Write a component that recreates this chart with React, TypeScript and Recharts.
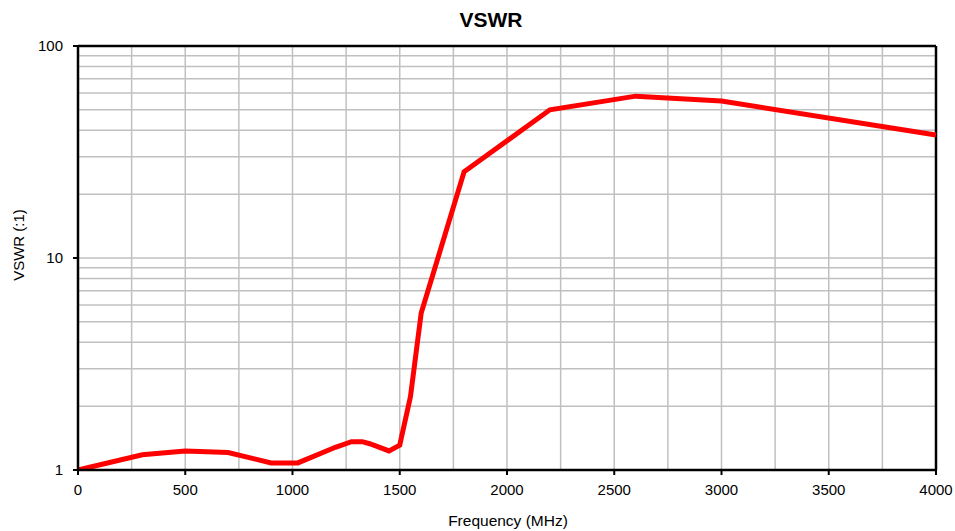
import React from 'react';
import { LineChart, Line, XAxis, YAxis, ReferenceLine } from 'recharts';

const frequency = [0, 300, 500, 700, 900, 1025, 1200, 1275, 1325, 1360, 1450, 1500, 1550, 1600, 1800, 2200, 2600, 3000, 4000];
const vswr = [1.0, 1.18, 1.23, 1.21, 1.08, 1.08, 1.28, 1.36, 1.36, 1.33, 1.23, 1.31, 2.22, 5.5, 25.5, 50, 58, 55, 38];

const xTicks = [0, 500, 1000, 1500, 2000, 2500, 3000, 3500, 4000];
const yTicks = [1, 10, 100];
const xGrid = [250, 500, 750, 1000, 1250, 1500, 1750, 2000, 2250, 2500, 2750, 3000, 3250, 3500, 3750];
const yGrid = [2, 3, 4, 5, 6, 7, 8, 9, 10, 20, 30, 40, 50, 60, 70, 80, 90];

const data = frequency.map((f, i) => ({ f, v: vswr[i] }));

const family = '"Liberation Sans", Arial, sans-serif';
const font = { fontFamily: family, fontSize: 15, fill: '#000' };
const gridColor = '#c0c0c0';

const App = () => {
  return (
    <div style={{ position: 'absolute', left: 0, top: 0, width: 955, height: 531, background: '#fff' }}>
      <div
        style={{
          position: 'absolute',
          left: 391,
          width: 200,
          top: 8,
          textAlign: 'center',
          fontFamily: family,
          fontWeight: 'bold',
          fontSize: 21,
        }}
      >
        VSWR
      </div>
      <div
        style={{
          position: 'absolute',
          left: 358,
          width: 300,
          top: 512,
          textAlign: 'center',
          fontFamily: family,
          fontSize: 15.5,
        }}
      >
        Frequency (MHz)
      </div>
      <div
        style={{
          position: 'absolute',
          left: 18,
          top: 245,
          transform: 'translate(-50%, -50%) rotate(-90deg)',
          whiteSpace: 'nowrap',
          fontFamily: family,
          fontSize: 15,
        }}
      >
        VSWR (:1)
      </div>
      <LineChart width={955} height={531} data={data} margin={{ top: 46, right: 19, left: 0, bottom: 0 }}>
        {yGrid.map((g) => (
          <ReferenceLine key={'h' + g} y={g} stroke={gridColor} strokeWidth={1.5} />
        ))}
        {xGrid.map((g) => (
          <ReferenceLine key={'v' + g} x={g} stroke={gridColor} strokeWidth={1.5} />
        ))}
        <ReferenceLine y={100} stroke="#000" strokeWidth={2.5} />
        <ReferenceLine x={4000} stroke="#000" strokeWidth={2.5} />
        <XAxis
          dataKey="f"
          type="number"
          domain={[0, 4000]}
          ticks={xTicks}
          height={61}
          tick={font}
          tickSize={5}
          tickMargin={9}
          stroke="#000"
          axisLine={{ stroke: '#000', strokeWidth: 2.5 }}
          tickLine={{ stroke: '#000', strokeWidth: 2 }}
        />
        <YAxis
          scale="log"
          domain={[1, 100]}
          allowDataOverflow
          ticks={yTicks}
          width={78}
          tick={font}
          tickSize={5}
          tickMargin={10}
          axisLine={{ stroke: '#000', strokeWidth: 2.5 }}
          tickLine={{ stroke: '#000', strokeWidth: 2 }}
        />
        <Line
          type="linear"
          dataKey="v"
          stroke="#ff0000"
          strokeWidth={5}
          dot={false}
          isAnimationActive={false}
        />
      </LineChart>
    </div>
  );
};

export default App;
